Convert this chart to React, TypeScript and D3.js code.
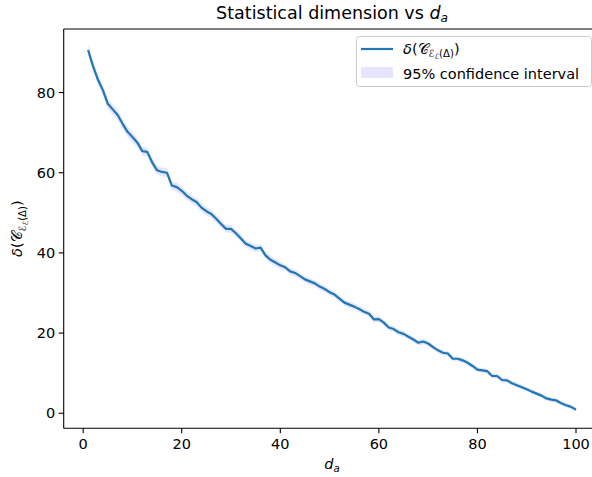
import { useRef, useEffect } from "react";
import * as d3 from "d3";

// statistical dimension for d_a = 1..100
const dims = d3.range(1, 101);
const statDim = [
  90.6, 86.6, 83.2, 80.6, 77.2, 75.8, 74.4, 72.2, 70.2, 68.9,
  67.5, 65.4, 65.2, 62.6, 60.6, 60.2, 60.0, 56.8, 56.4, 55.5,
  54.3, 53.4, 52.7, 51.3, 50.4, 49.7, 48.5, 47.2, 46.0, 46.0,
  44.9, 43.6, 42.3, 41.7, 41.1, 41.3, 39.4, 38.3, 37.6, 36.9,
  36.4, 35.4, 35.0, 34.2, 33.4, 32.9, 32.4, 31.6, 31.0, 30.2,
  29.6, 28.6, 27.6, 27.1, 26.6, 26.0, 25.3, 24.8, 23.4, 23.5,
  22.6, 21.4, 21.0, 20.2, 19.8, 19.1, 18.4, 17.6, 17.9, 17.4,
  16.5, 15.7, 15.1, 14.9, 13.6, 13.6, 13.2, 12.6, 11.8, 10.9,
  10.7, 10.5, 9.3, 9.3, 8.3, 8.2, 7.5, 7.0, 6.5, 6.0,
  5.4, 4.9, 4.4, 3.7, 3.4, 3.2, 2.5, 2.0, 1.6, 0.9,
];
// half width of the 95% band, one value per block of ten points
const ciHalf = [1.3, 1.1, 1.0, 0.9, 0.8, 0.75, 0.7, 0.65, 0.6, 0.55];

const xTicks = [0, 20, 40, 60, 80, 100];
const yTicks = [0, 20, 40, 60, 80];

function App() {
  const svgRef = useRef<SVGSVGElement>(null);

  useEffect(() => {
    const w = 592;
    const h = 477;
    const left = 63.7;
    const right = 600.4;
    const top = 29;
    const bottom = 428.3;
    const font = "DejaVu Sans, sans-serif";
    const fs = 14.5;

    const svg = d3.select(svgRef.current).attr("width", w).attr("height", h);
    svg.selectAll("*").remove();

    const x = d3.scaleLinear().domain([-3.95, 104.95]).range([left, right]);
    const y = d3.scaleLinear().domain([-3.75, 95.85]).range([bottom, top]);

    const rows = dims.map((d, i) => ({
      d,
      v: statDim[i],
      lo: statDim[i] - ciHalf[Math.floor(i / 10)],
      hi: statDim[i] + ciHalf[Math.floor(i / 10)],
    }));

    // confidence band
    const area = d3
      .area<any>()
      .x((r) => x(r.d))
      .y0((r) => y(r.lo))
      .y1((r) => y(r.hi));
    svg
      .append("path")
      .attr("d", area(rows))
      .attr("fill", "#0000ff")
      .attr("fill-opacity", 0.1);

    // mean line
    const line = d3
      .line<any>()
      .x((r) => x(r.d))
      .y((r) => y(r.v));
    svg
      .append("path")
      .attr("d", line(rows))
      .attr("fill", "none")
      .attr("stroke", "#1f77b4")
      .attr("stroke-width", 2.2)
      .attr("stroke-linejoin", "round");

    // spines
    const frame = svg.append("g").attr("stroke", "#000").attr("stroke-width", 1.1);
    frame.append("line").attr("x1", left).attr("x2", left).attr("y1", top).attr("y2", bottom);
    frame.append("line").attr("x1", left).attr("x2", right).attr("y1", bottom).attr("y2", bottom);
    frame.append("line").attr("x1", left).attr("x2", right).attr("y1", top).attr("y2", top);
    frame.append("line").attr("x1", right).attr("x2", right).attr("y1", top).attr("y2", bottom);

    // x axis
    const xAxis = svg.append("g").attr("font-family", font).attr("font-size", fs);
    xTicks.forEach((t) => {
      xAxis
        .append("line")
        .attr("x1", x(t)).attr("x2", x(t))
        .attr("y1", bottom).attr("y2", bottom + 5)
        .attr("stroke", "#000").attr("stroke-width", 1.1);
      xAxis
        .append("text")
        .attr("x", x(t)).attr("y", bottom + 21)
        .attr("text-anchor", "middle")
        .text(t);
    });

    // y axis
    const yAxis = svg.append("g").attr("font-family", font).attr("font-size", fs);
    yTicks.forEach((t) => {
      yAxis
        .append("line")
        .attr("x1", left - 5).attr("x2", left)
        .attr("y1", y(t)).attr("y2", y(t))
        .attr("stroke", "#000").attr("stroke-width", 1.1);
      yAxis
        .append("text")
        .attr("x", left - 8.5).attr("y", y(t) + 5.2)
        .attr("text-anchor", "end")
        .text(t);
    });

    // title
    const title = svg
      .append("text")
      .attr("x", (left + right) / 2).attr("y", 18.5)
      .attr("text-anchor", "middle")
      .attr("font-family", font).attr("font-size", 17.5);
    title.append("tspan").text("Statistical dimension vs ");
    title.append("tspan").attr("font-style", "italic").text("d");
    title.append("tspan").attr("font-style", "italic").attr("font-size", 12.2).attr("dy", 3.5).text("a");

    // x label
    const xl = svg
      .append("text")
      .attr("x", (left + right) / 2).attr("y", 469)
      .attr("text-anchor", "middle")
      .attr("font-family", font).attr("font-size", fs);
    xl.append("tspan").attr("font-style", "italic").text("d");
    xl.append("tspan").attr("font-style", "italic").attr("font-size", 10.2).attr("dy", 3).text("a");

    // math label delta(C_{E_E(Delta)})
    const mathLabel = (sel: any, size: number) => {
      sel.append("tspan").attr("font-style", "italic").text("δ");
      sel.append("tspan").text("(");
      sel.append("tspan").text("𝒞");
      sel.append("tspan").attr("font-size", size * 0.7).attr("dy", size * 0.25).text("ℰ");
      sel.append("tspan").attr("font-size", size * 0.5).attr("dy", size * 0.15).text("ℰ");
      sel.append("tspan").attr("font-size", size * 0.7).attr("dy", -size * 0.15).text("(Δ)");
      sel.append("tspan").attr("dy", -size * 0.25).text(")");
    };

    const yl = svg
      .append("text")
      .attr("transform", `translate(22, ${(top + bottom) / 2}) rotate(-90)`)
      .attr("text-anchor", "middle")
      .attr("font-family", font).attr("font-size", fs);
    mathLabel(yl, fs);

    // legend
    const lg = svg.append("g").attr("font-family", font).attr("font-size", fs);
    lg.append("rect")
      .attr("x", 356.5).attr("y", 36.5)
      .attr("width", 235).attr("height", 50)
      .attr("rx", 3)
      .attr("fill", "#fff").attr("fill-opacity", 0.8)
      .attr("stroke", "#cccccc").attr("stroke-width", 1);
    lg.append("line")
      .attr("x1", 361).attr("x2", 393)
      .attr("y1", 49).attr("y2", 49)
      .attr("stroke", "#1f77b4").attr("stroke-width", 2.2);
    const lt = lg.append("text").attr("x", 403).attr("y", 53.5);
    mathLabel(lt, fs);
    lg.append("rect")
      .attr("x", 361).attr("y", 67)
      .attr("width", 32).attr("height", 11)
      .attr("fill", "#0000ff").attr("fill-opacity", 0.1);
    lg.append("text").attr("x", 403).attr("y", 78.5).text("95% confidence interval");
  }, []);

  return (
    <svg
      ref={svgRef}
      style={{ position: "absolute", left: 0, top: 0, display: "block", background: "#fff" }}
    ></svg>
  );
}

export default App;
